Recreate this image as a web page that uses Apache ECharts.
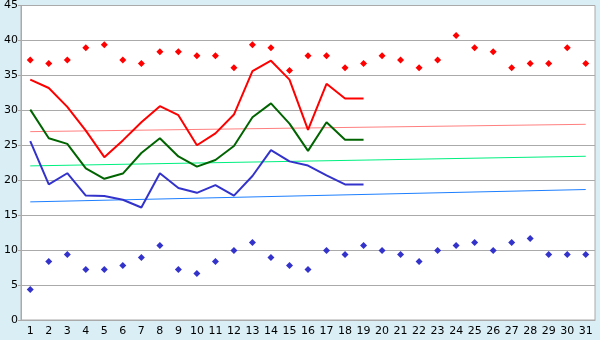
<!DOCTYPE html>
<html><head><meta charset="utf-8">
<script src="https://cdn.jsdelivr.net/npm/echarts@6/dist/echarts.min.js"></script>
<style>html,body{margin:0;padding:0;background:#daeef5}#c{width:600px;height:340px}</style>
</head><body><div id="c"></div>
<script>
const days = ['1','2','3','4','5','6','7','8','9','10','11','12','13','14','15','16','17','18','19','20','21','22','23','24','25','26','27','28','29','30','31'];
const yTicks = [0,5,10,15,20,25,30,35,40,45];
const maxTemp = [34.4,33.2,30.5,27.1,23.3,25.7,28.3,30.6,29.3,25.0,26.7,29.4,35.6,37.1,34.4,27.2,33.8,31.7,31.7];
const avgTemp = [30.1,26.0,25.2,21.7,20.2,20.95,23.9,26.0,23.4,21.95,22.9,24.9,29.0,31.0,28.1,24.2,28.3,25.8,25.8];
const minTemp = [25.6,19.4,21.0,17.8,17.75,17.2,16.1,21.0,18.9,18.2,19.3,17.8,20.6,24.3,22.7,22.1,20.7,19.4,19.4];
const recordHigh = [37.2,36.7,37.2,38.95,39.4,37.2,36.7,38.4,38.4,37.8,37.8,36.1,39.4,38.95,35.7,37.8,37.8,36.1,36.7,37.8,37.2,36.1,37.2,40.7,38.95,38.4,36.1,36.7,36.7,38.95,36.7];
const recordLow = [4.38,8.38,9.38,7.24,7.24,7.81,8.95,10.67,7.24,6.67,8.38,9.95,11.1,8.95,7.81,7.24,9.95,9.38,10.67,9.95,9.38,8.38,9.95,10.67,11.1,9.95,11.1,11.67,9.38,9.38,9.38];
const trendMax = [['1',26.95],['31',28.0]];
const trendAvg = [['1',22.05],['31',23.43]];
const trendMin = [['1',16.9],['31',18.67]];

const chart = echarts.init(document.getElementById('c'));
const lineS = (data, color, w) => ({type:'line', data, symbol:'none', silent:true, lineStyle:{color, width:w}, itemStyle:{color}});
chart.setOption({
  backgroundColor:'#daeef5',
  animation:false,
  textStyle:{fontFamily:'DejaVu Sans'},
  grid:{left:21,right:5,top:5,bottom:20,show:true,backgroundColor:'#ffffff',borderColor:'#aaaaaa',borderWidth:1},
  xAxis:{type:'category',data:days,boundaryGap:true,
    axisLine:{lineStyle:{color:'#aaaaaa'}},
    axisTick:{alignWithLabel:true,length:5,lineStyle:{color:'#000'}},
    axisLabel:{color:'#000',fontSize:11,margin:6,interval:0}},
  yAxis:{type:'value',min:yTicks[0],max:yTicks[yTicks.length-1],interval:5,
    axisLine:{show:true,lineStyle:{color:'#aaaaaa'}},
    axisTick:{show:true,length:3,lineStyle:{color:'#aaaaaa'}},
    axisLabel:{color:'#000',fontSize:11,margin:3},
    splitLine:{lineStyle:{color:'#aaaaaa'}}},
  series:[
    lineS(trendMax,'#ff8080',1),
    lineS(trendAvg,'#00f080',1),
    lineS(trendMin,'#1e7fff',1),
    lineS(maxTemp,'#ff0000',2),
    lineS(avgTemp,'#006400',2),
    lineS(minTemp,'#3333cc',2),
    {type:'scatter',data:recordHigh,symbol:'diamond',symbolSize:7,itemStyle:{color:'#ff0000',opacity:1}},
    {type:'scatter',data:recordLow,symbol:'diamond',symbolSize:7,itemStyle:{color:'#3333cc',opacity:1}}
  ]
});
</script></body></html>
